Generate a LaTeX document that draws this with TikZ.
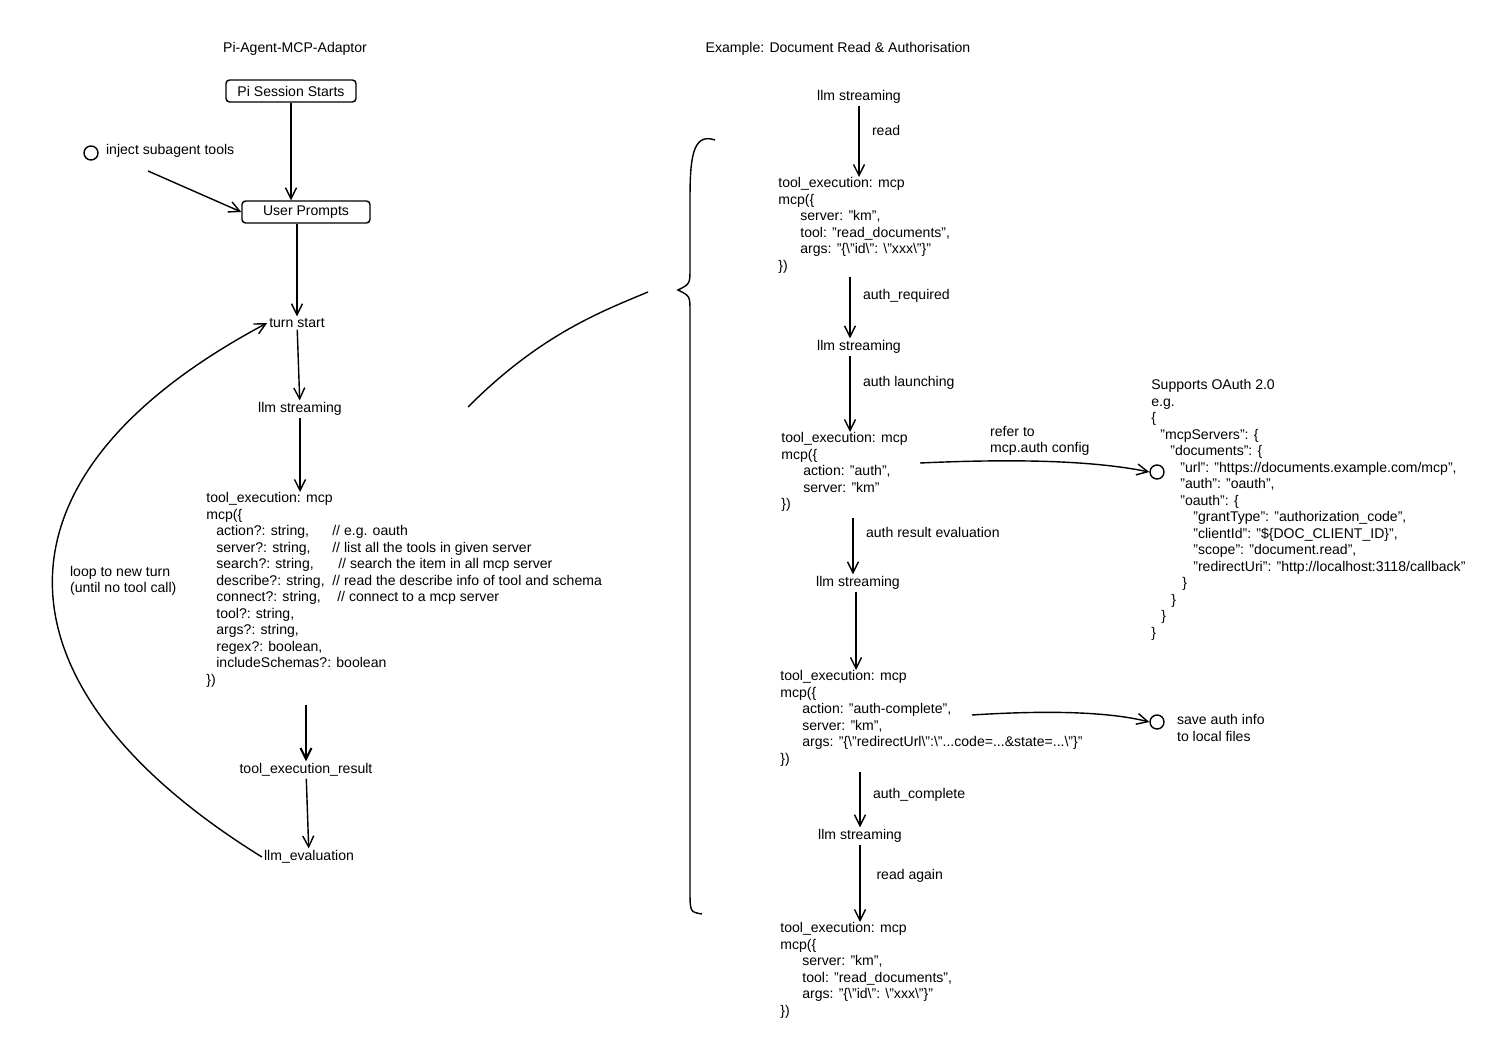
\documentclass[tikz,border=0pt]{standalone}
\usepackage{fontspec}
\setmainfont{Liberation Sans}
\usetikzlibrary{arrows.meta}
\newcommand\bsl{\textbackslash}
\newcommand\cmline[2]{\makebox[2.32cm][l]{#1}#2}
\newcommand\ind[1]{\hspace*{#1}}
\tikzset{
  lbl/.style={font=\fontsize{8}{9.4}\selectfont, inner sep=1pt},
  code/.style={lbl, align=left, anchor=north west, inner sep=0pt},
  box/.style={lbl, draw, rounded corners=2pt, minimum height=0.44cm, thick},
  arr/.style={-{Straight Barb[length=2.2mm,width=2.2mm]}, thick},
  dot/.style={draw, circle, thick, minimum size=0.28cm, inner sep=0pt}
}
\begin{document}
\begin{tikzpicture}[x=0.02cm, y=-0.02cm]
\useasboundingbox (0,0) rectangle (1500,1043);
% left column
\node[lbl] (ltitle) at (295,49) {Pi-Agent-MCP-Adaptor};
\node[box, minimum width=2.6cm] (start) at (291,91) {Pi Session Starts};
\node[dot] (injdot) at (91,153) {};
\node[lbl, anchor=west] (inj) at (104,151) {inject subagent tools};
\node[box, minimum width=2.56cm] (prompt) at (306,212) {User Prompts};
\coordinate (injfrom) at (148,171);
\node[lbl] (turn) at (297,323) {turn start};
\node[lbl] (lls) at (300,409) {llm streaming};
\node[code] (exec) at (206,492) {tool\_execution: mcp\\
mcp(\{\\
\ind{0.2cm}\cmline{action?: string,}{// e.g. oauth}\\
\ind{0.2cm}\cmline{server?: string,}{// list all the tools in given server}\\
\ind{0.2cm}\cmline{search?: string,}{\ind{0.12cm}// search the item in all mcp server}\\
\ind{0.2cm}\cmline{describe?: string,}{// read the describe info of tool and schema}\\
\ind{0.2cm}\cmline{connect?: string,}{\ind{0.1cm}// connect to a mcp server}\\
\ind{0.2cm}tool?: string,\\
\ind{0.2cm}args?: string,\\
\ind{0.2cm}regex?: boolean,\\
\ind{0.2cm}includeSchemas?: boolean\\
\})};
\node[lbl] (res) at (306,770) {tool\_execution\_result};
\node[lbl] (eval) at (309,857) {llm\_evaluation};
\node[lbl, align=left, anchor=west] (loop) at (68,581) {loop to new turn\\(until no tool call)};

\draw[arr] (start) -- (prompt.north -| start);
\draw[arr] (injfrom) -- (prompt.west);
\draw[arr] (prompt.south -| turn) -- (turn);
\draw[arr] (turn) -- (lls);
\draw[arr] (lls) -- (exec.north -| lls);
\draw[arr, very thick] (exec.south -| res) ++(0,18) -- (res);
\draw[arr] (res) -- (eval);
\draw[arr] (eval.west) .. controls (-8,690) and (-28,480) .. (turn.west);

% brace and link
\draw[thick] (715,140) .. controls (692,132) and (690,160) .. (690,200) -- (690,268)
  .. controls (690,284) .. (678,290) .. controls (690,296) .. (690,312) -- (690,890)
  .. controls (690,912) .. (702,914);
\draw[thick] (468,407) .. controls (540,335) and (600,312) .. (648,292);

% right column
\node[lbl] (rtitle) at (838,49) {Example: Document Read \& Authorisation};
\node[lbl] (s1) at (859,97) {llm streaming};
\node[code] (c1) at (778,177) {tool\_execution: mcp\\
mcp(\{\\
\ind{0.44cm}server: "km",\\
\ind{0.44cm}tool: "read\_documents",\\
\ind{0.44cm}args: "\{\bsl"id\bsl": \bsl"xxx\bsl"\}"\\
\})};
\node[lbl] (s2) at (859,347) {llm streaming};
\node[code] (c2) at (781,432) {tool\_execution: mcp\\
mcp(\{\\
\ind{0.44cm}action: "auth",\\
\ind{0.44cm}server: "km"\\
\})};
\node[lbl] (s3) at (858,583) {llm streaming};
\node[code] (c3) at (780,670) {tool\_execution: mcp\\
mcp(\{\\
\ind{0.44cm}action: "auth-complete",\\
\ind{0.44cm}server: "km",\\
\ind{0.44cm}args: "\{\bsl"redirectUrl\bsl":\bsl"...code=...\&state=...\bsl"\}"\\
\})};
\node[lbl] (s4) at (860,836) {llm streaming};
\node[code] (c4) at (780,922) {tool\_execution: mcp\\
mcp(\{\\
\ind{0.44cm}server: "km",\\
\ind{0.44cm}tool: "read\_documents",\\
\ind{0.44cm}args: "\{\bsl"id\bsl": \bsl"xxx\bsl"\}"\\
\})};

\node[dot] (cfgdot) at (1157,472) {};
\node[code] (cfg) at (1151,379) {Supports OAuth 2.0\\
e.g.\\
\{\\
\ind{0.18cm}"mcpServers": \{\\
\ind{0.38cm}"documents": \{\\
\ind{0.58cm}"url": "https://documents.example.com/mcp",\\
\ind{0.58cm}"auth": "oauth",\\
\ind{0.58cm}"oauth": \{\\
\ind{0.84cm}"grantType": "authorization\_code",\\
\ind{0.84cm}"clientId": "\$\{DOC\_CLIENT\_ID\}",\\
\ind{0.84cm}"scope": "document.read",\\
\ind{0.84cm}"redirectUri": "http://localhost:3118/callback"\\
\ind{0.62cm}\}\\
\ind{0.4cm}\}\\
\ind{0.2cm}\}\\
\}};
\node[dot] (savedot) at (1157,722) {};
\node[lbl, align=left, anchor=west] (save) at (1175,728) {save auth info\\to local files};
\coordinate (c2out) at (920,463);
\coordinate (c3out) at (972,715);

\draw[arr] (s1) -- node[lbl, anchor=west, xshift=6pt, pos=0.35] {read} (c1.north -| s1);
\draw[arr] (c1.south -| 850,0) ++(0,4) -- node[lbl, anchor=west, xshift=6pt, pos=0.3] {auth\_required} (s2.north -| 850,0);
\draw[arr] (s2.south -| 850,0) -- node[lbl, anchor=west, xshift=6pt, pos=0.35] {auth launching} (c2.north -| 850,0);
\draw[arr] (c2.south -| 853,0) ++(0,6) -- node[lbl, anchor=west, xshift=6pt, pos=0.25] {auth result evaluation} (s3.north -| 853,0);
\draw[arr] (s3.south -| 856,0) -- (c3.north -| 856,0);
\draw[arr] (c3.south -| 860,0) ++(0,6) -- node[lbl, anchor=west, xshift=6pt, pos=0.4] {auth\_complete} (s4.north -| 860,0);
\draw[arr] (s4) -- node[lbl, anchor=west, xshift=8pt, pos=0.4] {read again} (c4.north -| s4);
\draw[arr] (c2out) .. controls (1030,458) and (1100,462) .. node[lbl, align=left, anchor=south, xshift=-10pt, yshift=2pt] {refer to\\mcp.auth config} (cfgdot.west);
\draw[arr] (c3out) .. controls (1050,710) and (1110,712) .. (savedot.west);
\end{tikzpicture}
\end{document}
